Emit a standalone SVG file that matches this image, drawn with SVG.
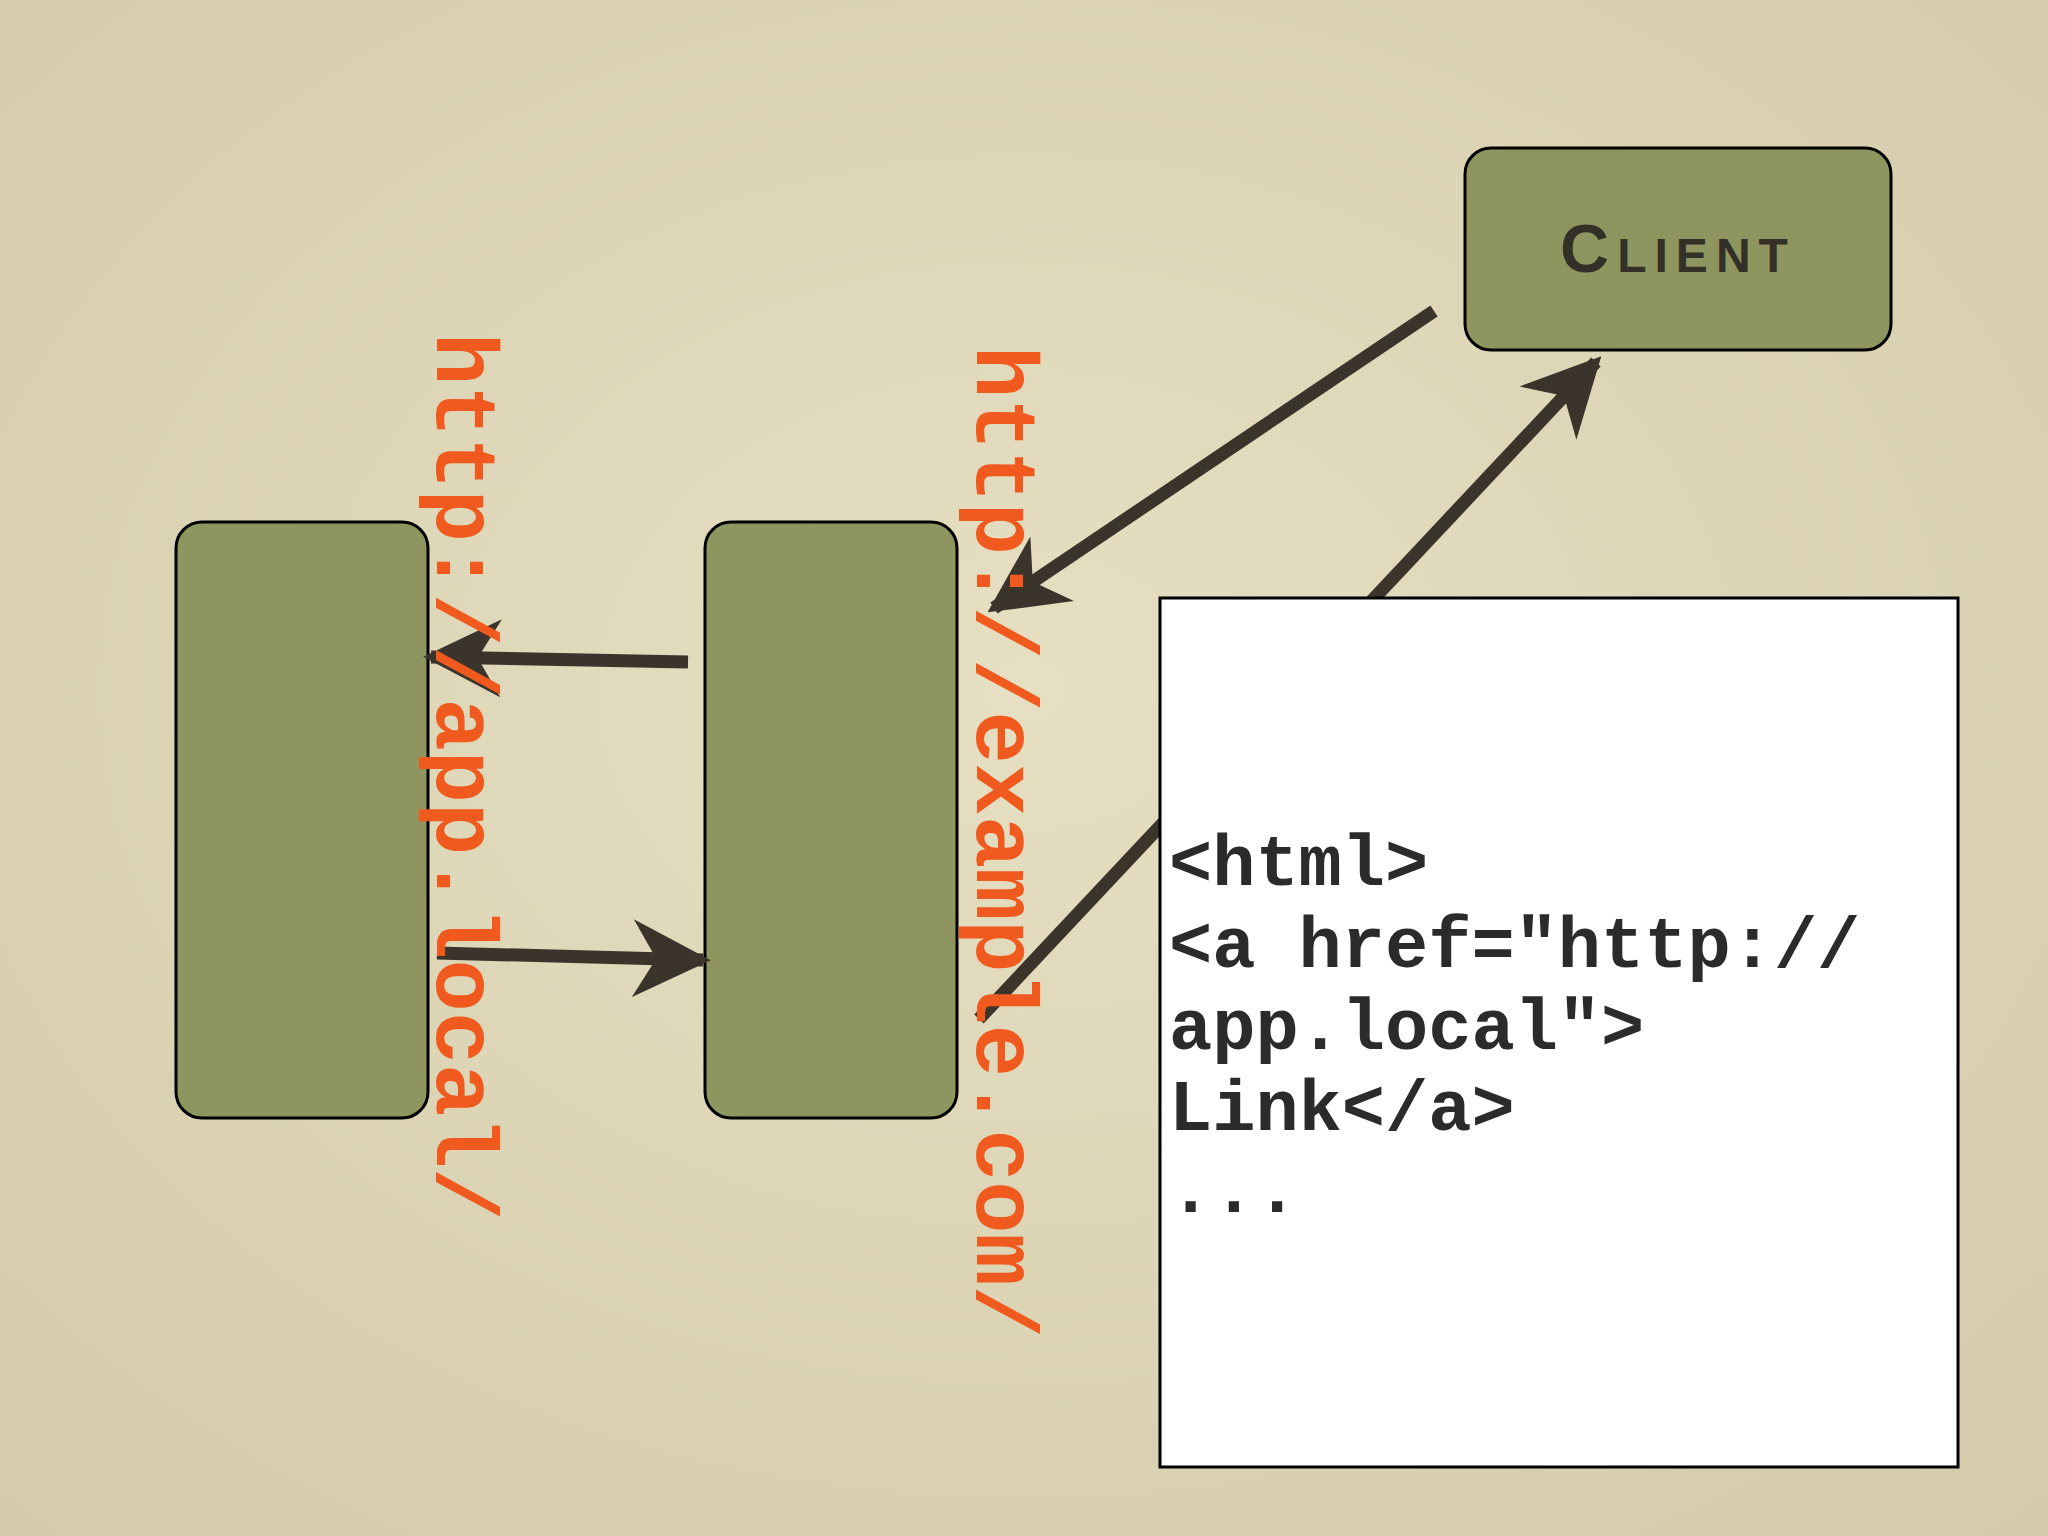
<svg xmlns="http://www.w3.org/2000/svg" width="2048" height="1536" viewBox="0 0 2048 1536">
<defs>
<radialGradient id="bg" cx="50%" cy="45%" r="75%"><stop offset="0" stop-color="#e6dfc2"/><stop offset="1" stop-color="#d3cbaa"/></radialGradient>
<marker id="ah" viewBox="0 0 10 10" refX="9" refY="5" markerWidth="6" markerHeight="6" markerUnits="strokeWidth" orient="auto"><path d="M0,0 L10,5 L0,10 L3,5 z" fill="#3a342a"/></marker>
<style>
.box{fill:#8f955f;stroke:#000;stroke-width:3}
.con{stroke:#3a342a;stroke-width:13;fill:none;marker-end:url(#ah)}
.url{font-family:"Liberation Mono",monospace;font-weight:bold;font-size:87px;fill:#f05a1e}
.code{font-family:"Liberation Mono",monospace;font-weight:bold;font-size:72px;fill:#2b2b2b}
</style>
</defs>
<rect width="2048" height="1536" fill="url(#bg)"/>
<g id="client"><rect class="box" x="1465" y="148" width="426" height="202" rx="26"/>
<text x="1678" y="272" text-anchor="middle" font-family="Liberation Sans,sans-serif" font-weight="bold" font-size="68" font-variant="small-caps" letter-spacing="8" fill="#333027">Client</text></g>
<g id="left"><rect class="box" x="176" y="522" width="252" height="596" rx="26"/></g>
<g id="middle"><rect class="box" x="705" y="522" width="252" height="596" rx="26"/></g>
<g id="connectors">
<line class="con" x1="1434" y1="311" x2="994" y2="608"/>
<line class="con" x1="979" y1="1019" x2="1596" y2="362"/>
<line class="con" x1="688" y1="662" x2="431" y2="657"/>
<line class="con" x1="437" y1="953" x2="703" y2="960"/>
</g>
<g id="code"><rect x="1160" y="598" width="798" height="869" fill="#fff" stroke="#000" stroke-width="3"/>
<text class="code" x="1169" y="885">&lt;html&gt;</text>
<text class="code" x="1169" y="967">&lt;a href="http://</text>
<text class="code" x="1169" y="1049">app.local"&gt;</text>
<text class="code" x="1169" y="1130">Link&lt;/a&gt;</text>
<text class="code" x="1169" y="1212">...</text></g>
<text class="url" transform="translate(437,333) rotate(90)">http://app.local/</text>
<text class="url" transform="translate(977,346) rotate(90)">http://example.com/</text>
</svg>
